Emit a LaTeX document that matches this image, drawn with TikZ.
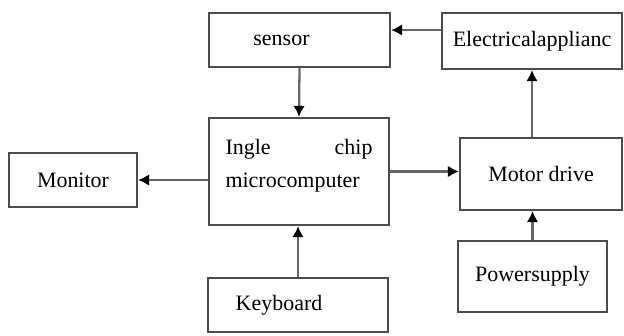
\documentclass[tikz,border=0pt]{standalone}
\usepackage{fontspec}
\setmainfont{Liberation Serif}
\usetikzlibrary{arrows.meta}
\begin{document}
\begin{tikzpicture}
        [x=0.02cm, y=-0.02cm,
        block/.style={rectangle, draw=black!70, line width=1.2pt, inner sep=0pt, font=\fontsize{12.5}{14}\selectfont},
        arr/.style={draw=black!60, line width=1.3pt, -{Latex[length=2.2mm,width=2.3mm,black]}}]
        \useasboundingbox (0,0) rectangle (624,335);
        \node[block, minimum width=3.62cm, minimum height=1.08cm] (sensor) at (299.5,40) {sensor\kern0.72cm};
        \node[block, minimum width=3.6cm, minimum height=1.12cm] (elec) at (532,41) {Electricalapplianc};
        \node[block, minimum width=3.6cm, minimum height=2.14cm, text width=2.94cm, align=left] (chip) at (299,171.5) {Ingle\hfill chip\\[4.8pt]microcomputer\\[-5pt]\mbox{}};
        \node[block, minimum width=2.56cm, minimum height=1.08cm] (monitor) at (73,180) {Monitor};
        \node[block, minimum width=3.24cm, minimum height=1.44cm] (motor) at (541,174) {Motor drive};
        \node[block, minimum width=2.98cm, minimum height=1.42cm] (power) at (532.5,276.5) {Powersupply};
        \node[block, minimum width=3.6cm, minimum height=1.08cm] (key) at (298,305) {Keyboard\kern0.76cm};

        \draw[arr] ([yshift=0.22cm]elec.west) -- ([yshift=0.22cm]elec.west -| sensor.east);
        \draw[arr] (sensor.south) -- (chip.north);
        \draw[arr] (chip.west |- monitor.east) -- (monitor.east);
        \draw[arr] (chip.east) -- (chip.east -| motor.west);
        \draw[arr] (elec.south |- motor.north) -- (elec.south);
        \draw[arr] (power.north) -- (power.north |- motor.south);
        \draw[arr] (key.north) -- (key.north |- chip.south);
    \end{tikzpicture}
\end{document}
